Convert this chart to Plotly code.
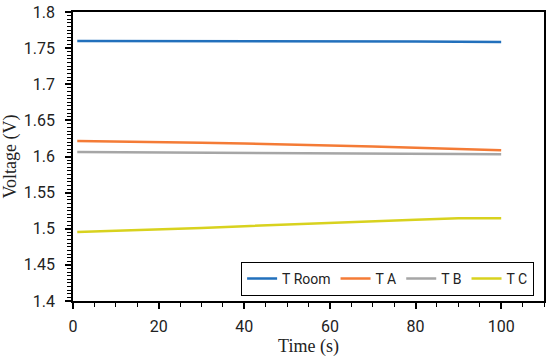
import plotly.graph_objects as go

time_s = [1, 10, 20, 30, 40, 50, 60, 70, 80, 90, 100]
t_room = [1.7600, 1.7600, 1.7600, 1.7598, 1.7597, 1.7596, 1.7595, 1.7593, 1.7590, 1.7587, 1.7585]
t_a = [1.6215, 1.6210, 1.6200, 1.6190, 1.6180, 1.6170, 1.6155, 1.6140, 1.6120, 1.6100, 1.6085]
t_b = [1.6062, 1.6060, 1.6058, 1.6055, 1.6052, 1.6050, 1.6047, 1.6043, 1.6040, 1.6035, 1.6030]
t_c = [1.4955, 1.4970, 1.4990, 1.5010, 1.5035, 1.5060, 1.5085, 1.5105, 1.5125, 1.5145, 1.5145]

series_names = ["T Room", "T A", "T B", "T C"]
series_colors = ["#2270BC", "#F47B36", "#A6A6A6", "#D8D21E"]

fig = go.Figure()
for name, vals, col in zip(series_names, [t_room, t_a, t_b, t_c], series_colors):
    fig.add_trace(go.Scatter(x=time_s, y=vals, mode="lines", name=name,
                             line=dict(color=col, width=2.5)))

tick_font = dict(family="Roboto, Lato, sans-serif", size=16, color="#222")
title_font = dict(family="Times New Roman, Liberation Serif, serif", size=18, color="#222")
fig.update_layout(
    width=550, height=364,
    margin=dict(l=73, r=6, t=12, b=63, autoexpand=False),
    paper_bgcolor="white", plot_bgcolor="white",
    showlegend=True,
    legend=dict(orientation="h", x=0.979, y=0.018, xanchor="right", yanchor="bottom",
                bordercolor="black", borderwidth=1, bgcolor="white",
                font=dict(family="Roboto, Lato, sans-serif", size=14, color="#222"),
                itemwidth=30, tracegroupgap=0),
    xaxis=dict(range=[0, 110], dtick=20, tick0=0, showgrid=False, zeroline=False,
               automargin=False,
               showline=True, linecolor="black", linewidth=1.5, mirror=True,
               ticks="outside", ticklen=6, tickwidth=1.5, tickcolor="black",
               ticklabelstandoff=4,
               minor=dict(dtick=5, ticks="outside", ticklen=4, tickwidth=1, tickcolor="black"),
               tickfont=tick_font,
               title=dict(text="Time (s)", font=title_font, standoff=0)),
    yaxis=dict(range=[1.4, 1.8], dtick=0.05, tick0=1.4, showgrid=False, zeroline=False,
               automargin=False,
               showline=True, linecolor="black", linewidth=1.5, mirror=True,
               ticks="outside", ticklen=6, tickwidth=1.5, tickcolor="black",
               ticklabelstandoff=7,
               minor=dict(dtick=0.005, ticks="outside", ticklen=4, tickwidth=1, tickcolor="black"),
               tickfont=tick_font,
               title=dict(text="Voltage (V)", font=title_font, standoff=4)),
)

fig.write_html("out.html", config={"displayModeBar": False},
               post_script="document.body.style.margin='0';")
